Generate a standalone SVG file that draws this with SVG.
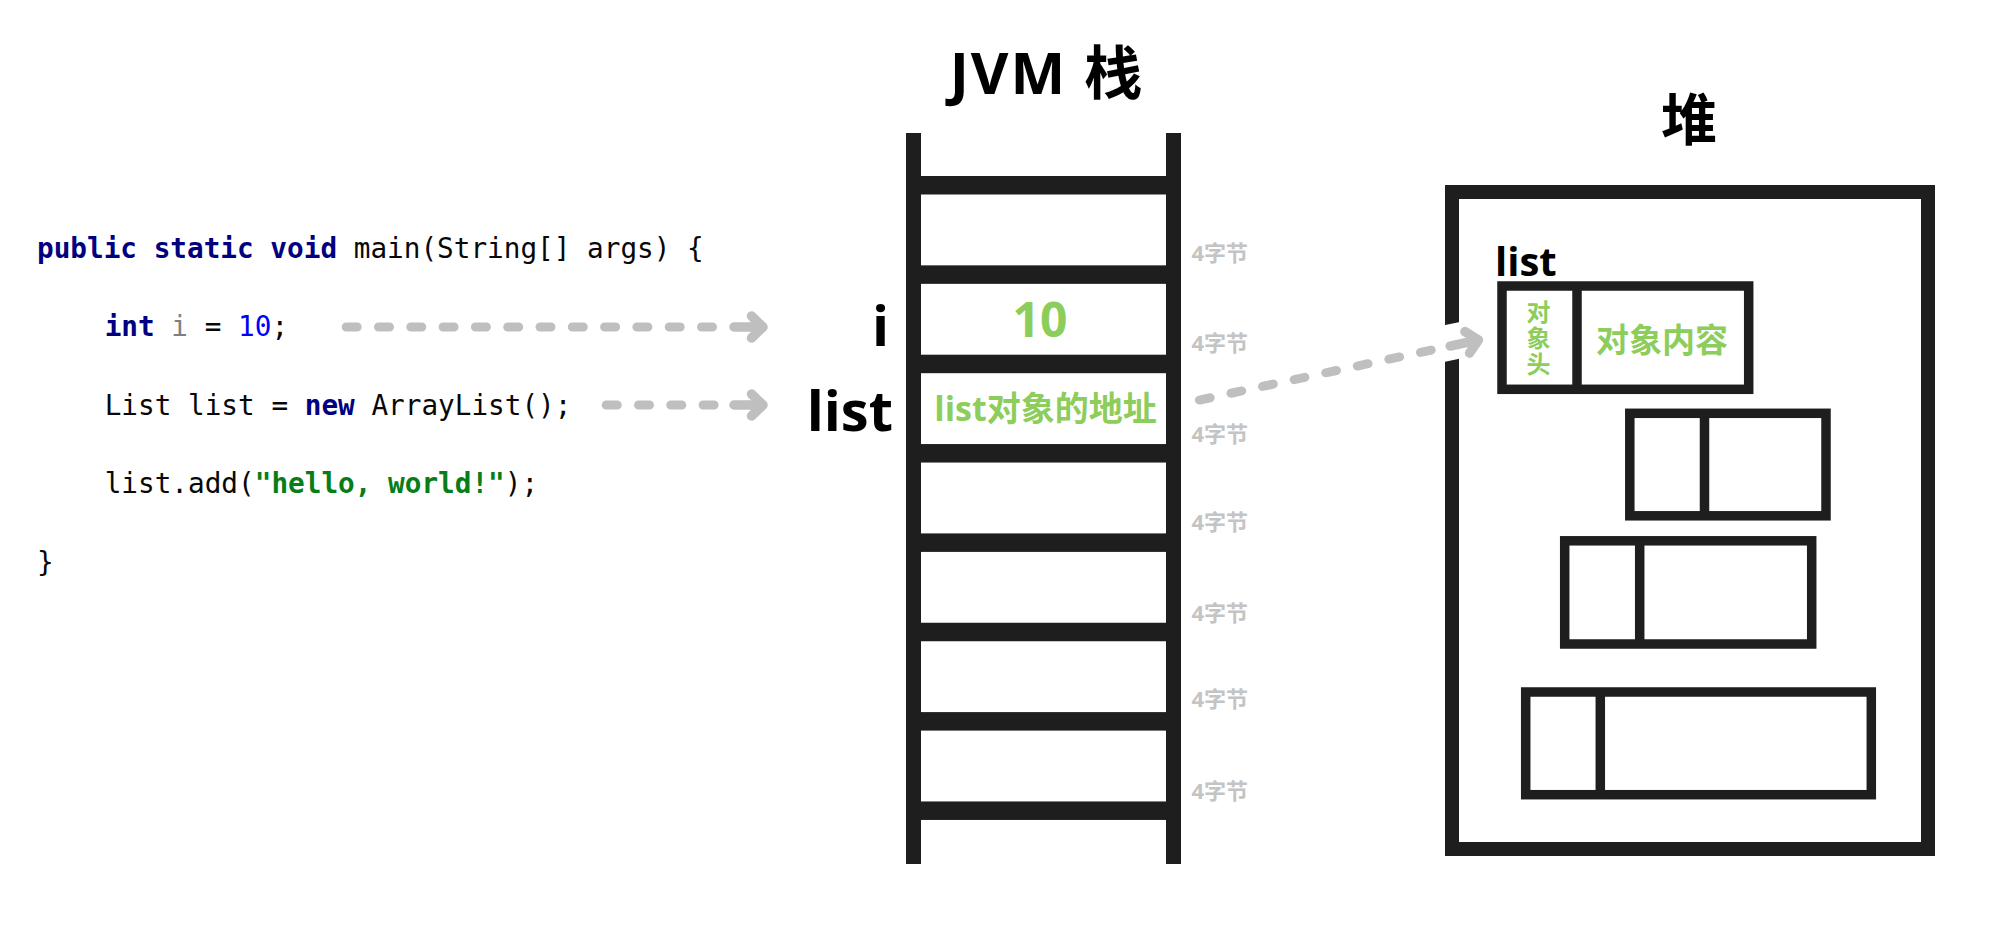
<svg xmlns="http://www.w3.org/2000/svg" xmlns:xlink="http://www.w3.org/1999/xlink" width="2000" height="926" viewBox="0 0 2000 926">
<style>
.code{font-family:"DejaVu Sans Mono","Liberation Mono",monospace;font-size:27.7px;fill:#080808}
.kw{fill:#000080;font-weight:bold}
.var{fill:#808080}
.num{fill:#0000ff}
.str{fill:#067d17;font-weight:bold}
.lbl{font-family:"Open Sans","Noto Sans CJK SC",sans-serif;font-weight:bold;fill:#000}
.grn{font-family:"Open Sans","Noto Sans CJK SC",sans-serif;font-weight:bold;fill:#8ccd5b}
.bytes{font-family:"Open Sans","Noto Sans CJK SC",sans-serif;font-weight:bold;font-size:22px;fill:#c4c4c4}
.bar{fill:#1e1e1e}
.frame{fill:none;stroke:#1e1e1e;stroke-width:14}
.obj{fill:none;stroke:#1e1e1e;stroke-width:9.5}
.div{stroke:#1e1e1e;stroke-width:9.5}
.dash{fill:none;stroke:#bfbfbf;stroke-width:9;stroke-linecap:round;stroke-dasharray:11 21.3}
.head{fill:none;stroke:#bfbfbf;stroke-width:9.5;stroke-linecap:round;stroke-linejoin:round}
.halo{fill:none;stroke:#ffffff;stroke-width:36}
</style>
<defs>
<path id="arrowhead" d="M-29,0 L0,0 M-11.5,-11 L0,0 L-11.5,11"/>
</defs>
<rect width="2000" height="926" fill="#ffffff"/>

<g id="code">
<text class="code" x="37" y="257.5" xml:space="preserve"><tspan class="kw">public static void</tspan> main(String[] args) {</text>
<text class="code" x="104.7" y="336" xml:space="preserve"><tspan class="kw">int</tspan><tspan class="var"> i</tspan> = <tspan class="num">10</tspan>;</text>
<text class="code" x="104.7" y="414.5" xml:space="preserve">List list = <tspan class="kw">new</tspan> ArrayList();</text>
<text class="code" x="104.7" y="493" xml:space="preserve">list.add(<tspan class="str">"hello, world!"</tspan>);</text>
<text class="code" x="37" y="571.5">}</text>
</g>

<g id="jvm-stack">
<text class="lbl" x="1047" y="94" font-size="58" letter-spacing="2" text-anchor="middle">JVM 栈</text>
<rect class="bar" x="906" y="133" width="15" height="731"/>
<rect class="bar" x="1166" y="133" width="15" height="731"/>
<rect class="bar" x="906" y="176" width="275" height="18.5"/>
<rect class="bar" x="906" y="265.35" width="275" height="18.5"/>
<rect class="bar" x="906" y="354.7" width="275" height="18.5"/>
<rect class="bar" x="906" y="444.05" width="275" height="18.5"/>
<rect class="bar" x="906" y="533.4" width="275" height="18.5"/>
<rect class="bar" x="906" y="622.75" width="275" height="18.5"/>
<rect class="bar" x="906" y="712.1" width="275" height="18.5"/>
<rect class="bar" x="906" y="801.45" width="275" height="18.5"/>
<g id="slot-i">
<text class="lbl" x="889" y="346" font-size="56" text-anchor="end">i</text>
<text class="grn" x="1040" y="336.5" font-size="48" text-anchor="middle">10</text>
</g>
<g id="slot-list">
<text class="lbl" x="893" y="430.5" font-size="56" text-anchor="end">list</text>
<text class="grn" x="1045.5" y="421" font-size="34" text-anchor="middle">list对象的地址</text>
</g>
<g id="slot-sizes">
<text class="bytes" x="1191.5" y="261">4字节</text>
<text class="bytes" x="1191.5" y="351">4字节</text>
<text class="bytes" x="1191.5" y="442">4字节</text>
<text class="bytes" x="1191.5" y="529.5">4字节</text>
<text class="bytes" x="1191.5" y="620.5">4字节</text>
<text class="bytes" x="1191.5" y="707">4字节</text>
<text class="bytes" x="1191.5" y="798.5">4字节</text>
</g>
</g>

<g id="heap">
<text class="lbl" x="1689" y="140" font-size="56" text-anchor="middle">堆</text>
<rect class="frame" x="1452" y="192" width="476" height="657"/>
<g id="heap-list">
<text class="lbl" x="1495" y="276" font-size="40">list</text>
<rect class="obj" x="1502" y="286" width="246.7" height="103.3"/>
<line class="div" x1="1577" y1="286" x2="1577" y2="389.3"/>
<text class="grn" x="1537.5" y="300" font-size="24" letter-spacing="2" writing-mode="vertical-rl">对象头</text>
<text class="grn" x="1662" y="351.5" font-size="33" text-anchor="middle">对象内容</text>
</g>
<g id="heap-obj2">
<rect class="obj" x="1629.8" y="413.3" width="196.2" height="102.5"/>
<line class="div" x1="1704.5" y1="413.3" x2="1704.5" y2="515.8"/>
</g>
<g id="heap-obj3">
<rect class="obj" x="1564.7" y="540.8" width="247" height="103.2"/>
<line class="div" x1="1639.7" y1="540.8" x2="1639.7" y2="644"/>
</g>
<g id="heap-obj4">
<rect class="obj" x="1525.7" y="692" width="345.6" height="102.7"/>
<line class="div" x1="1600.3" y1="692" x2="1600.3" y2="794.7"/>
</g>
</g>

<g id="connectors">
<g id="conn-i">
<path class="dash" d="M346.2,327 H712.5"/>
<use class="head" xlink:href="#arrowhead" href="#arrowhead" transform="translate(763,327)"/>
</g>
<g id="conn-list">
<path class="dash" d="M606.2,405 H714.1"/>
<use class="head" xlink:href="#arrowhead" href="#arrowhead" transform="translate(763,405)"/>
</g>
<g id="conn-ref">
<path class="halo" d="M1438,344.9 L1466,339"/>
<path class="dash" d="M1199.4,400.05 L1431.2,350.1"/>
<use class="head" xlink:href="#arrowhead" href="#arrowhead" transform="translate(1478.5,339.95) rotate(-12.15)"/>
</g>
</g>
</svg>
